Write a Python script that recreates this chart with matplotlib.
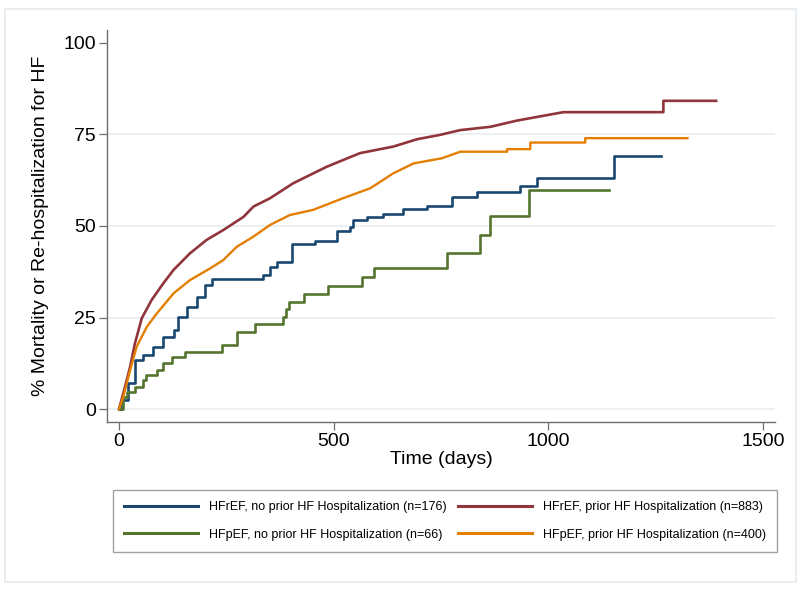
import matplotlib
matplotlib.use("Agg")
import matplotlib.pyplot as plt
import matplotlib.patches as patches

plt.rcParams['font.family'] = ['Liberation Sans', 'DejaVu Sans']

# Kaplan-Meier style curves (days, %)
hfref_noprior_t = [0, 6, 22, 37, 57, 80, 103, 127, 138, 158, 181, 200, 216, 336, 352, 367,
                   402, 456, 507, 538, 546, 577, 616, 662, 717, 776, 833, 934, 973, 1154, 1263]
hfref_noprior_y = [0, 2.5, 7.0, 13.4, 14.8, 17.0, 19.8, 21.6, 25.2, 28.0, 30.7, 33.9, 35.4, 36.6, 38.7, 40.3,
                   45.1, 46.0, 48.5, 49.8, 51.6, 52.5, 53.4, 54.6, 55.5, 58.0, 59.4, 61.0, 63.0, 69.1, 69.1]

hfref_prior_t = [0, 14, 26, 37, 53, 76, 103, 127, 165, 204, 243, 290, 313, 352, 406, 484, 561,
                 639, 694, 748, 795, 865, 927, 988, 1035, 1268, 1268, 1391]
hfref_prior_y = [0, 6.1, 11.6, 17.9, 24.8, 29.8, 34.3, 38.0, 42.5, 46.2, 48.9, 52.5, 55.3, 57.6, 61.7, 66.2, 69.9,
                 71.7, 73.7, 74.9, 76.2, 77.1, 78.8, 80.1, 81.1, 81.1, 84.2, 84.2]

hfpef_noprior_t = [0, 10, 18, 37, 57, 64, 88, 103, 123, 154, 239, 274, 317, 383, 390, 395,
                   432, 486, 567, 594, 765, 841, 864, 955, 1142]
hfpef_noprior_y = [0, 3.4, 4.7, 6.1, 7.9, 9.3, 10.7, 12.5, 14.3, 15.7, 17.5, 21.1, 23.2, 25.2, 27.3, 29.3,
                   31.4, 33.7, 36.0, 38.5, 42.7, 47.5, 52.7, 59.7, 59.7]

hfpef_prior_t = [0, 10, 26, 41, 65, 88, 127, 165, 212, 243, 274, 313, 352, 398, 452, 522, 585,
                 639, 686, 752, 795, 904, 904, 958, 958, 1086, 1086, 1324]
hfpef_prior_y = [0, 3.4, 10.7, 17.0, 22.5, 26.1, 31.6, 35.2, 38.4, 40.7, 44.3, 47.1, 50.3, 53.0, 54.4, 57.6, 60.3,
                 64.4, 67.1, 68.5, 70.3, 70.3, 71.0, 71.0, 72.8, 72.8, 74.0, 74.0]

labels = ["HFrEF, no prior HF Hospitalization (n=176)",
          "HFrEF, prior HF Hospitalization (n=883)",
          "HFpEF, no prior HF Hospitalization (n=66)",
          "HFpEF, prior HF Hospitalization (n=400)"]
colors = ["#1a476f", "#90353b", "#55752f", "#e37e00"]

x_ticks = [0, 500, 1000, 1500]
y_ticks = [0, 25, 50, 75, 100]
grid_levels = [0, 25, 50, 75]

W, H = 800, 591
fig = plt.figure(figsize=(W / 100, H / 100), dpi=100)
fig.patch.set_facecolor("white")

# light frame around the whole graph region
fig.patches.append(patches.Rectangle((5 / W, 1 - 582 / H), 791 / W, 573 / H,
                                     transform=fig.transFigure, fill=False,
                                     edgecolor="#e3eaed", linewidth=1.2))

ax = fig.add_axes([107 / W, 1 - 422 / H, 668 / W, 392 / H])
ax.set_xlim(-28, 1528)
ax.set_ylim(-3.55, 103.55)

for g in grid_levels:
    ax.axhline(g, color="#e7eef1", linewidth=1.2, zorder=0)

l1, = ax.plot(hfref_noprior_t, hfref_noprior_y, drawstyle="steps-post", color=colors[0], lw=1.9, zorder=3)
l2, = ax.plot(hfref_prior_t, hfref_prior_y, color=colors[1], lw=1.9, zorder=3)
l3, = ax.plot(hfpef_noprior_t, hfpef_noprior_y, drawstyle="steps-post", color=colors[2], lw=1.9, zorder=3)
l4, = ax.plot(hfpef_prior_t, hfpef_prior_y, color=colors[3], lw=1.7, zorder=3)

for s in ["top", "right"]:
    ax.spines[s].set_visible(False)
for s in ["left", "bottom"]:
    ax.spines[s].set_color("#6e6e6e")
    ax.spines[s].set_linewidth(1.0)

ax.set_xticks(x_ticks)
ax.set_yticks(y_ticks)
ax.tick_params(axis="both", direction="out", length=6, width=0.9, color="#6e6e6e",
               labelsize=14, pad=2)
ax.set_xlabel("Time (days)", fontsize=14, labelpad=1)
ax.set_ylabel("% Mortality or Re-hospitalization for HF", fontsize=14, labelpad=10)

leg = fig.legend([l1, l3, l2, l4], [labels[0], labels[2], labels[1], labels[3]],
                 ncol=2, loc="center", mode="expand",
                 bbox_to_anchor=(113 / W, 1 - 556 / H, 664 / W, 70 / H),
                 fontsize=9.0, frameon=True, fancybox=False, edgecolor="#8a8a8a",
                 handlelength=5.9, handletextpad=0.9, columnspacing=2.0,
                 labelspacing=1.25, borderpad=0.9, borderaxespad=0)
leg.get_frame().set_linewidth(1.0)
for line in leg.get_lines():
    line.set_linewidth(2.2)

fig.savefig("out.png", dpi=100)
